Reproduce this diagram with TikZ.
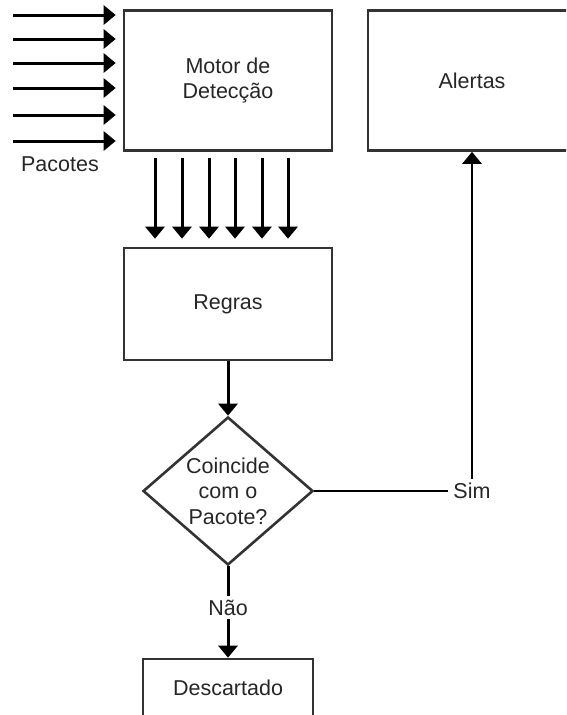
\documentclass[tikz,border=0pt]{standalone}
\usepackage{fontspec}
\setmainfont{Liberation Sans}
\usetikzlibrary{shapes.geometric,arrows.meta}
\begin{document}
\begin{tikzpicture}[x=1pt,y=-1pt,
  txt/.style={font=\fontsize{21.5}{25.5}\selectfont, text=black!85},
  box/.style={draw=black!80, line width=2.6pt, txt, align=center, minimum width=208pt},
  link/.style={draw, line width=3pt, ->, >={Triangle[length=12pt,width=19pt]}}]
\clip (0,0) rectangle (566,715);
\node[box, minimum height=140pt] (motor) at (228,80.5) {Motor de\\Detecção};
\node[box, minimum height=140pt] (alertas) at (472,80.5) {Alertas};
\node[box, minimum height=112pt] (regras) at (228,304) {Regras};
\node[box, diamond, aspect=1.15, inner sep=-8pt, minimum width=170pt, minimum height=148pt] (decisao) at (228,491) {Coincide\\com o\\Pacote?};
\node[box, minimum width=170pt, minimum height=58pt] (descartado) at (228,688) {Descartado};
\node[txt] (pacotes) at (60,164) {Pacotes};

\foreach \y [count=\i] in {15,39,63,88,115,141}{
  \coordinate (in\i) at (13,\y);
  \path[link, shorten >=7pt] (in\i) -- (in\i -| motor.west);
}
\foreach \x [count=\i] in {155,182,209,235,262,288}{
  \coordinate (d\i) at (\x,0);
  \path[link, shorten <=6pt, shorten >=8pt] (motor.south -| d\i) -- (regras.north -| d\i);
}

\path[link] (regras) -- (decisao);
\path[link] (decisao) -- node[txt, fill=white, inner xsep=2pt, inner ysep=4pt, pos=0.45] {Não} (descartado);
\path[link, line width=2.6pt] (decisao.east) -| node[txt, fill=white, inner xsep=5pt, inner ysep=4pt, pos=0.5] {Sim} (alertas.south);
\end{tikzpicture}
\end{document}
